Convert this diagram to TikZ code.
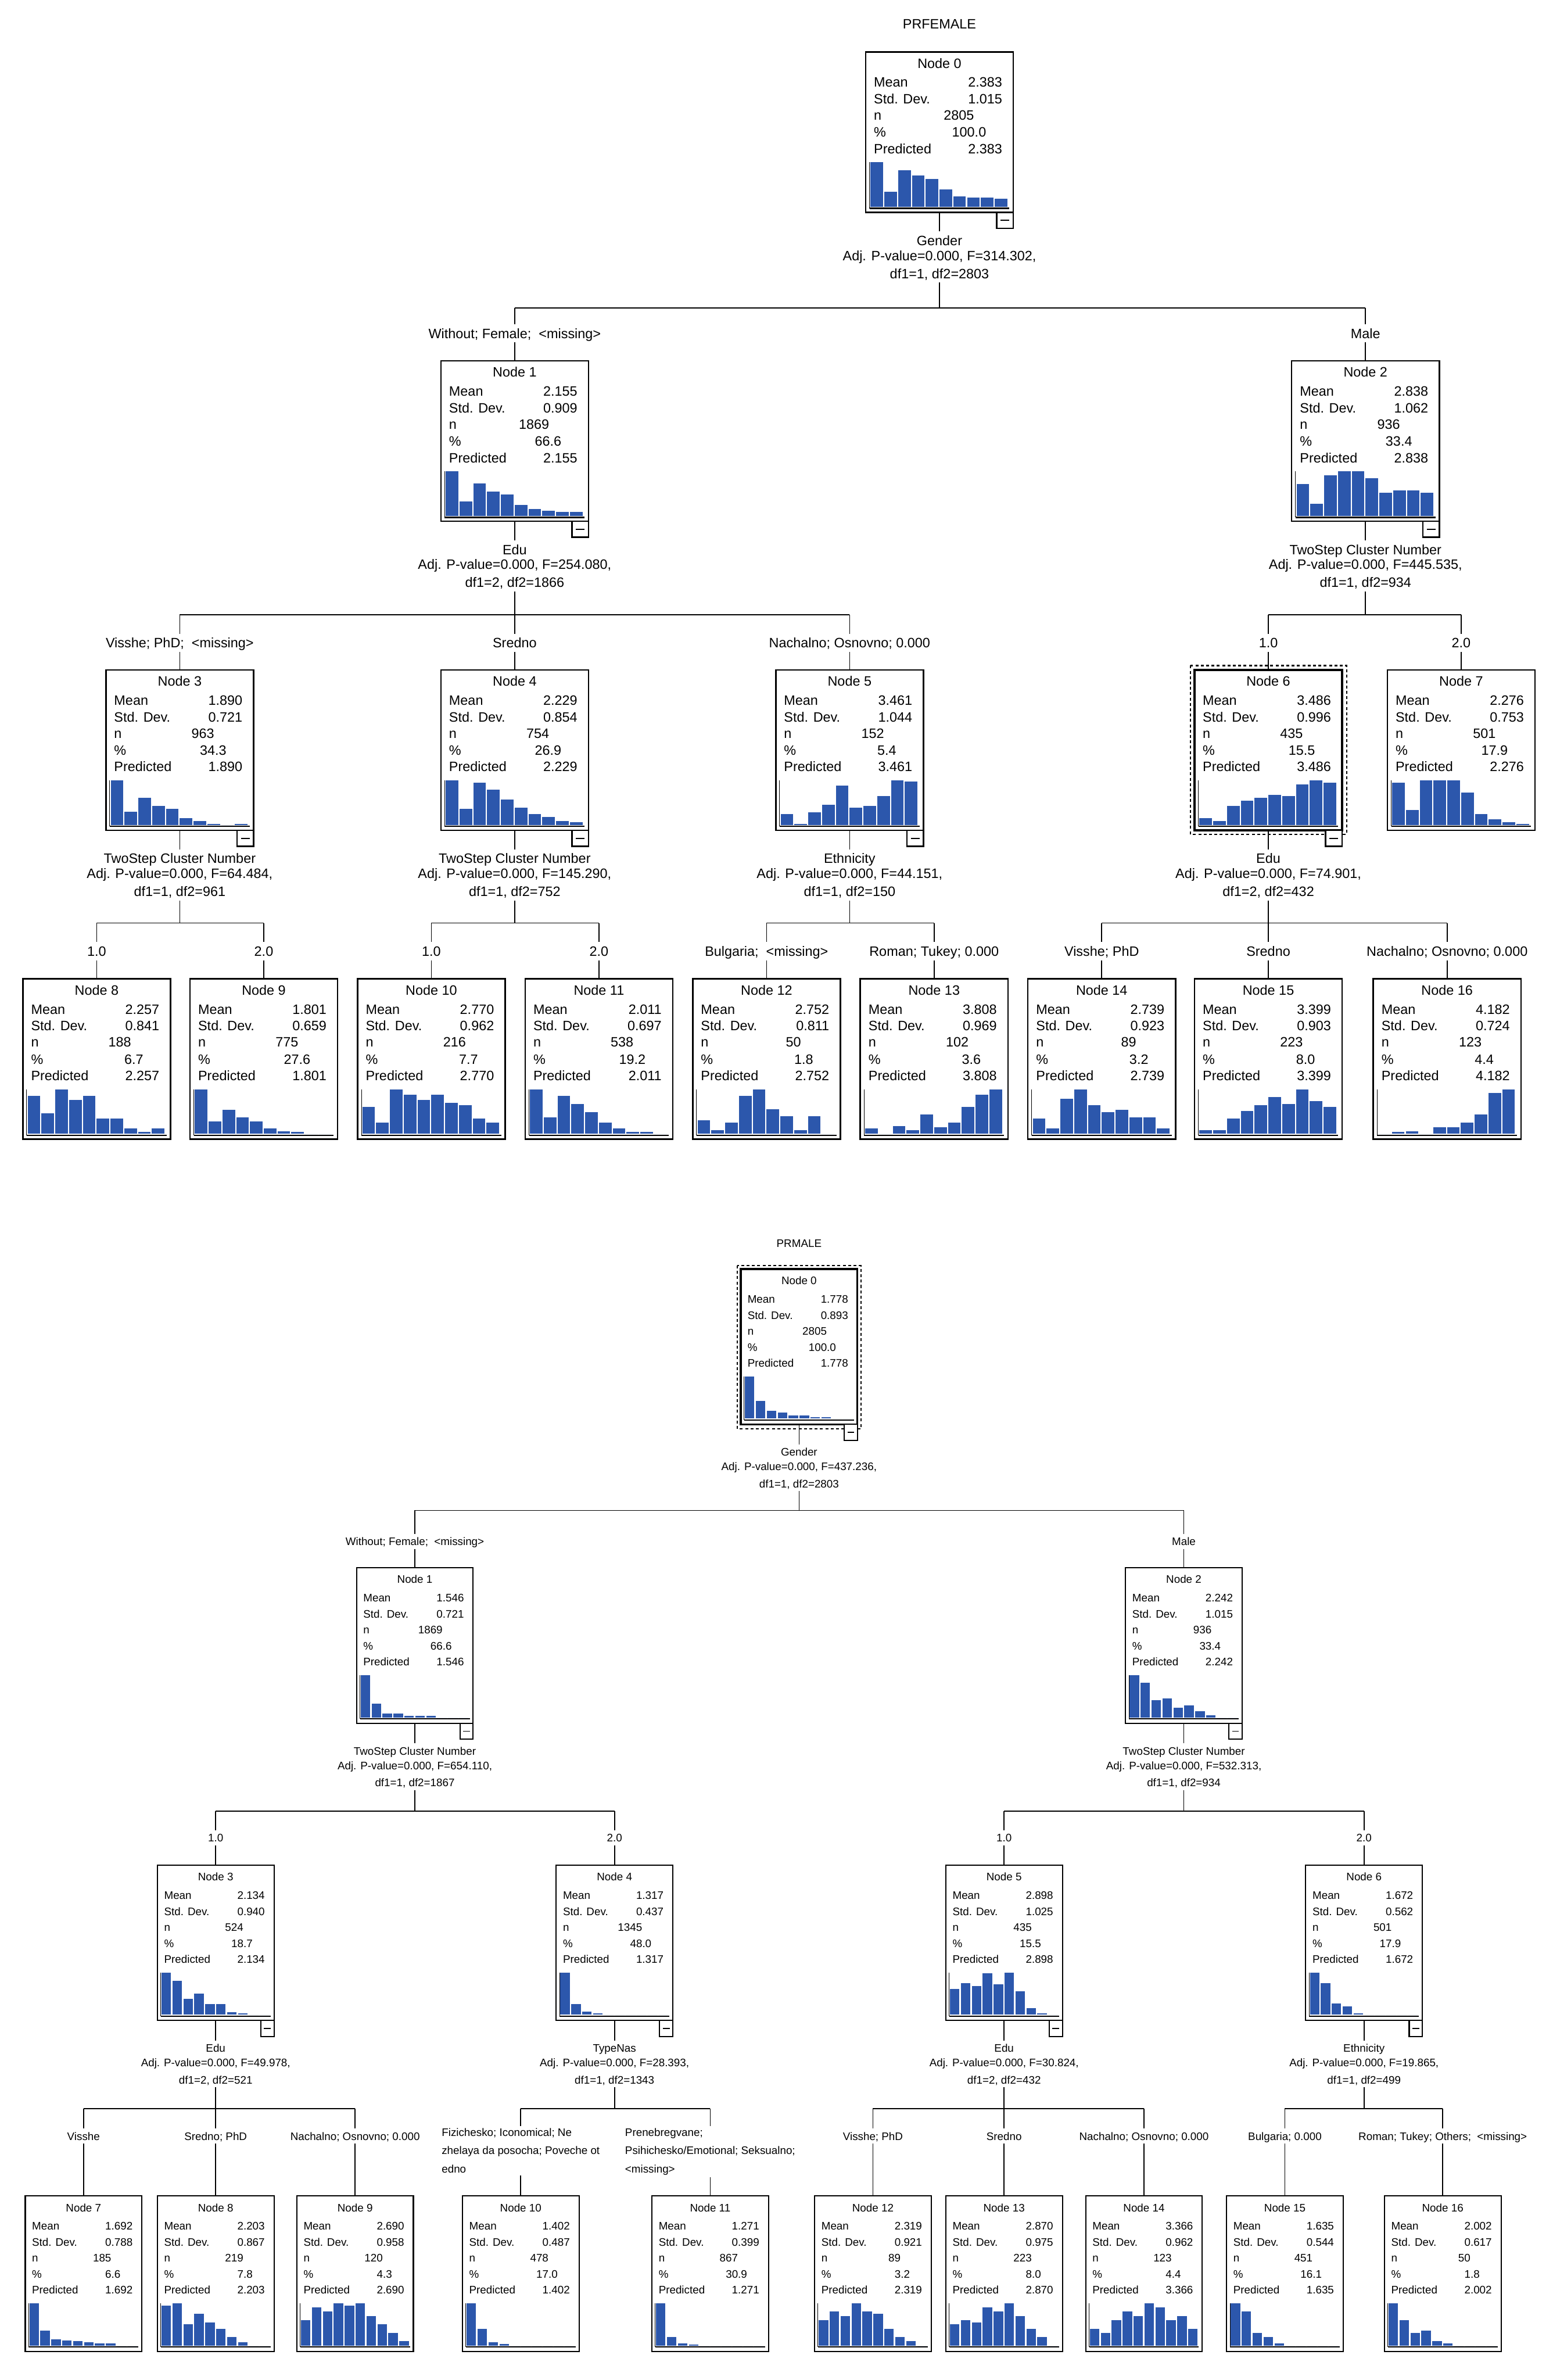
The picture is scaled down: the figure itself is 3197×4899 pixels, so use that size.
\documentclass[tikz,border=0pt]{standalone}
\usepackage{fontspec}
\setmainfont{Liberation Sans}
\definecolor{barblue}{RGB}{44,87,172}
\tikzset{
  nodebox/.style={draw=black, line width=\qbl pt, fill=white, inner sep=0pt, outer sep=0pt},
  minusbox/.style={draw=black, line width=\qbl pt, fill=white, inner sep=0pt, outer sep=0pt},
  minusdash/.style={line width=2pt},
  stat/.style={inner sep=0pt, outer sep=0pt, text height=\txh, text depth=\txd, font=\statfont},
  slab/.style={inner sep=3pt, outer sep=0pt, text height=\txh, text depth=\txd, font=\statfont},
  ttl/.style={inner sep=0pt, font=\statfont},
  mlab/.style={inner sep=5pt, outer sep=0pt, align=left, font=\mlfont},
  bar/.style={fill=barblue},
  haxis/.style={line width=1.2pt},
  hbase/.style={line width=3pt},
  conn/.style={line width=2pt},
  focusbox/.style={line width=2.5pt, dash pattern=on 6pt off 5pt},
}
\newcommand{\statbox}[9]{%
  \node[nodebox, minimum width=\qW pt, minimum height=\qH pt, anchor=north] (#1) at (#2,#3) {};
  \foreach \hh [count=\ii] in {#9}{%
    \fill[bar] (#2-\qW/2+\qbx+\ii*\qbp-\qbp, #3+\qyBot) rectangle ++(\qbw,-\hh*\qhmax);}
  \draw[haxis] (#2-\qW/2+\qax, #3+\qyHt) -- (#2-\qW/2+\qax, #3+\qyBase);
  \draw[hbase] (#2-\qW/2+\qax, #3+\qyBase) -- (#2+\qW/2-\qax, #3+\qyBase);
  \node[stat] (#1-t) at (#2,#3+\qyT) {Node #4};
  \node[stat,anchor=west] (#1-ml) at (#2-\qW/2+\qlx,#3+\qyA) {Mean};
  \node[stat,anchor=east] (#1-mv) at (#2+\qW/2-\qrA,#3+\qyA) {#5};
  \node[stat,anchor=west] (#1-sl) at (#2-\qW/2+\qlx,#3+\qyB) {Std. Dev.};
  \node[stat,anchor=east] (#1-sv) at (#2+\qW/2-\qrA,#3+\qyB) {#6};
  \node[stat,anchor=west] (#1-nl) at (#2-\qW/2+\qlx,#3+\qyC) {n};
  \node[stat,anchor=east] (#1-nv) at (#2+\qW/2-\qrC,#3+\qyC) {#7};
  \node[stat,anchor=west] (#1-pl) at (#2-\qW/2+\qlx,#3+\qyD) {\%};
  \node[stat,anchor=east] (#1-pv) at (#2+\qW/2-\qrD,#3+\qyD) {#8};
  \node[stat,anchor=west] (#1-rl) at (#2-\qW/2+\qlx,#3+\qyE) {Predicted};
  \node[stat,anchor=east] (#1-rv) at (#2+\qW/2-\qrA,#3+\qyE) {#5};
}
\newcommand{\collapsebox}[1]{%
  \node[minusbox, minimum width=\qmw pt, minimum height=\qmh pt, anchor=north east] (#1-m) at (#1.south east) {};
  \draw[minusdash] ([xshift=-\qmd pt]#1-m.center) -- ([xshift=\qmd pt]#1-m.center);
}
\newcommand{\splitlab}[7]{%
  \node[slab] (#1-v) at (#2,#3+\qH+\qsv) {#4};
  \node[slab] (#1-a) at (#2,#3+\qH+\qsa) {#5};
  \node[slab] (#1-d) at (#2,#3+\qH+\qsd) {#6};
  \coordinate (#1-dn) at (#2,#7);
  \draw[conn] (#1.south) -- (#1-v.north);
  \draw[conn] (#1-d.south) -- (#1-dn);
}
\newcommand{\branchto}[5]{%
  \coordinate (#1-up) at (#2,#3);
  \node[slab] (#1-l) at (#2,#4) {#5};
  \draw[conn] (#1-up) -- (#1-l.north);
  \draw[conn] (#1-l.south) -- (#1.north);
}
\begin{document}
\begin{tikzpicture}[x=1pt,y=-1pt]
\useasboundingbox (0,0) rectangle (3197,4899);
\fill[white] (0,0) rectangle (3197,4899);

% ================= TOP TREE =================
\begin{scope}
\def\qW{304}\def\qH{330}\def\qyT{23}\def\qyA{62}\def\qyB{96.5}\def\qyC{130}\def\qyD{165}\def\qyE{199}
\def\qlx{17}\def\qrA{23}\def\qrC{81}\def\qrD{56}\def\qbx{10}\def\qbp{28.4}\def\qbw{26}
\def\qyBot{319}\def\qhmax{92}\def\qax{8}\def\qyHt{227}\def\qyBase{322}
\def\qbl{3}\def\qmw{34}\def\qmh{33}\def\qmd{9}
\def\qsv{58}\def\qsa{89}\def\qsd{126}
\def\statfont{\fontsize{28}{28}\selectfont}\def\txh{25.8pt}\def\txd{5.6pt}

\node[ttl] (ttlA) at (1934,49) {PRFEMALE};

\statbox{A0}{1934}{107}{0}{2.383}{1.015}{2805}{100.0}{1,0.34,0.82,0.70,0.63,0.39,0.24,0.21,0.21,0.18}
\collapsebox{A0}
\statbox{A1}{1059.5}{743}{1}{2.155}{0.909}{1869}{66.6}{1,0.33,0.73,0.54,0.48,0.24,0.15,0.12,0.09,0.09}
\collapsebox{A1}
\statbox{A2}{2811}{743}{2}{2.838}{1.062}{936}{33.4}{0.72,0.27,0.91,1,1,0.85,0.52,0.57,0.57,0.52}
\collapsebox{A2}
\statbox{A3}{370}{1379}{3}{1.890}{0.721}{963}{34.3}{1,0.30,0.61,0.42,0.36,0.15,0.085,0.025,0,0.025}
\collapsebox{A3}
\statbox{A4}{1059.5}{1379}{4}{2.229}{0.854}{754}{26.9}{1,0.36,0.94,0.79,0.57,0.39,0.24,0.18,0.085,0.055}
\collapsebox{A4}
\statbox{A5}{1749}{1379}{5}{3.461}{1.044}{152}{5.4}{0.24,0.025,0.28,0.45,0.88,0.39,0.42,0.64,1,0.97}
\collapsebox{A5}
\statbox{A6}{2611}{1379}{6}{3.486}{0.996}{435}{15.5}{0.15,0.085,0.42,0.54,0.61,0.67,0.64,0.91,1,0.94}
\draw[line width=5pt] (A6.north west) rectangle (A6.south east);
\draw[focusbox] ([shift={(-8,-9)}]A6.north west) rectangle ([shift={(9,8)}]A6.south east);
\collapsebox{A6}
\statbox{A7}{3008}{1379}{7}{2.276}{0.753}{501}{17.9}{0.94,0.33,1,1,1,0.73,0.24,0.12,0.055,0.025}

\statbox{A8}{199}{2015}{8}{2.257}{0.841}{188}{6.7}{0.85,0.46,1,0.76,0.85,0.34,0.34,0.125,0.04,0.125}
\statbox{A9}{543}{2015}{9}{1.801}{0.659}{775}{27.6}{1,0.28,0.54,0.37,0.28,0.125,0.06,0.04,0,0}
\statbox{A10}{888}{2015}{10}{2.770}{0.962}{216}{7.7}{0.61,0.25,1,0.88,0.76,0.88,0.70,0.64,0.34,0.25}
\statbox{A11}{1233}{2015}{11}{2.011}{0.697}{538}{19.2}{1,0.37,0.85,0.67,0.49,0.25,0.125,0.04,0.04,0}
\statbox{A12}{1578}{2015}{12}{2.752}{0.811}{50}{1.8}{0.31,0.09,0.25,0.85,1,0.55,0.40,0.09,0.40,0}
\statbox{A13}{1923}{2015}{13}{3.808}{0.969}{102}{3.6}{0.12,0,0.18,0.09,0.43,0.15,0.25,0.61,0.88,1}
\statbox{A14}{2268}{2015}{14}{2.739}{0.923}{89}{3.2}{0.34,0.125,0.79,1,0.64,0.49,0.54,0.37,0.37,0.125}
\statbox{A15}{2611}{2015}{15}{3.399}{0.903}{223}{8.0}{0.09,0.09,0.34,0.51,0.64,0.82,0.67,1,0.73,0.61}
\statbox{A16}{2979}{2015}{16}{4.182}{0.724}{123}{4.4}{0,0.04,0.06,0,0.15,0.15,0.25,0.43,0.91,1}

\splitlab{A0}{1934}{107}{Gender}{Adj. P-value=0.000, F=314.302,}{df1=1, df2=2803}{634}
\splitlab{A1}{1059.5}{743}{Edu}{Adj. P-value=0.000, F=254.080,}{df1=2, df2=1866}{1265}
\splitlab{A2}{2811}{743}{TwoStep Cluster Number}{Adj. P-value=0.000, F=445.535,}{df1=1, df2=934}{1265}
\splitlab{A3}{370}{1379}{TwoStep Cluster Number}{Adj. P-value=0.000, F=64.484,}{df1=1, df2=961}{1900}
\splitlab{A4}{1059.5}{1379}{TwoStep Cluster Number}{Adj. P-value=0.000, F=145.290,}{df1=1, df2=752}{1900}
\splitlab{A5}{1749}{1379}{Ethnicity}{Adj. P-value=0.000, F=44.151,}{df1=1, df2=150}{1900}
\splitlab{A6}{2611}{1379}{Edu}{Adj. P-value=0.000, F=74.901,}{df1=2, df2=432}{1900}

\branchto{A1}{1059.5}{634}{686}{Without; Female;\ \ <missing>}
\branchto{A2}{2811}{634}{686}{Male}
\draw[conn] (A1-up) -- (A2-up);

\branchto{A3}{370}{1265}{1323}{Visshe; PhD;\ \ <missing>}
\branchto{A4}{1059.5}{1265}{1323}{Sredno}
\branchto{A5}{1749}{1265}{1323}{Nachalno; Osnovno; 0.000}
\draw[conn] (A3-up) -- (A5-up);
\branchto{A6}{2611}{1265}{1323}{1.0}
\branchto{A7}{3008}{1265}{1323}{2.0}
\draw[conn] (A6-up) -- (A7-up);

\branchto{A8}{199}{1900}{1958}{1.0}
\branchto{A9}{543}{1900}{1958}{2.0}
\draw[conn] (A8-up) -- (A9-up);
\branchto{A10}{888}{1900}{1958}{1.0}
\branchto{A11}{1233}{1900}{1958}{2.0}
\draw[conn] (A10-up) -- (A11-up);
\branchto{A12}{1578}{1900}{1958}{Bulgaria;\ \ <missing>}
\branchto{A13}{1923}{1900}{1958}{Roman; Tukey; 0.000}
\draw[conn] (A12-up) -- (A13-up);
\branchto{A14}{2268}{1900}{1958}{Visshe; PhD}
\branchto{A15}{2611}{1900}{1958}{Sredno}
\branchto{A16}{2979}{1900}{1958}{Nachalno; Osnovno; 0.000}
\draw[conn] (A14-up) -- (A16-up);
\end{scope}

% ================= BOTTOM TREE =================
\begin{scope}
\def\qW{240}\def\qH{320}\def\qyT{24}\def\qyA{62}\def\qyB{95.5}\def\qyC{128}\def\qyD{161.5}\def\qyE{193.5}
\def\qlx{14}\def\qrA{19}\def\qrC{63}\def\qrD{44}\def\qbx{8.5}\def\qbp{22.5}\def\qbw{19.5}
\def\qyBot{308}\def\qhmax{87}\def\qax{7}\def\qyHt{221}\def\qyBase{311}
\def\qbl{2.5}\def\qmw{27}\def\qmh{33}\def\qmd{7}
\def\qsv{57}\def\qsa{87}\def\qsd{122}
\def\statfont{\fontsize{22.5}{22.5}\selectfont}\def\txh{20.7pt}\def\txd{4.5pt}
\def\mlfont{\fontsize{22.5}{37.5}\selectfont}

\node[ttl] (ttlB) at (1645,2559) {PRMALE};

\statbox{B0}{1645}{2612}{0}{1.778}{0.893}{2805}{100.0}{1,0.42,0.18,0.15,0.08,0.08,0.03,0.03,0,0}
\draw[line width=4pt] (B0.north west) rectangle (B0.south east);
\draw[focusbox] ([shift={(-7,-7)}]B0.north west) rectangle ([shift={(7,9)}]B0.south east);
\collapsebox{B0}
\statbox{B1}{854}{3227}{1}{1.546}{0.721}{1869}{66.6}{1,0.33,0.09,0.09,0.04,0.04,0.04,0,0,0}
\collapsebox{B1}
\statbox{B2}{2437}{3227}{2}{2.242}{1.015}{936}{33.4}{1,0.82,0.41,0.45,0.23,0.29,0.15,0.05,0,0}
\collapsebox{B2}
\statbox{B3}{444}{3839}{3}{2.134}{0.940}{524}{18.7}{1,0.8,0.375,0.5,0.25,0.25,0.065,0.035,0,0}
\collapsebox{B3}
\statbox{B4}{1265}{3839}{4}{1.317}{0.437}{1345}{48.0}{1,0.25,0.075,0.035,0,0,0,0,0,0}
\collapsebox{B4}
\statbox{B5}{2067}{3839}{5}{2.898}{1.025}{435}{15.5}{0.61,0.74,0.675,0.975,0.725,1,0.555,0.16,0.035,0}
\collapsebox{B5}
\statbox{B6}{2808}{3839}{6}{1.672}{0.562}{501}{17.9}{1,0.75,0.27,0.19,0.035,0,0,0,0,0}
\collapsebox{B6}

\statbox{B7}{172}{4520}{7}{1.692}{0.788}{185}{6.6}{1,0.35,0.15,0.12,0.1,0.08,0.05,0.05,0,0}
\statbox{B8}{444}{4520}{8}{2.203}{0.867}{219}{7.8}{0.95,1,0.5,0.75,0.55,0.4,0.2,0.08,0,0}
\statbox{B9}{731}{4520}{9}{2.690}{0.958}{120}{4.3}{0.6,0.9,0.8,1,0.95,1,0.7,0.5,0.3,0.1}
\statbox{B10}{1072}{4520}{10}{1.402}{0.487}{478}{17.0}{1,0.4,0.08,0.04,0,0,0,0,0,0}
\statbox{B11}{1462}{4520}{11}{1.271}{0.399}{867}{30.9}{1,0.2,0.05,0.03,0,0,0,0,0,0}
\statbox{B12}{1797}{4520}{12}{2.319}{0.921}{89}{3.2}{0.6,0.8,0.7,1,0.8,0.75,0.4,0.2,0.1,0}
\statbox{B13}{2067}{4520}{13}{2.870}{0.975}{223}{8.0}{0.5,0.6,0.55,0.9,0.8,1,0.7,0.4,0.2,0}
\statbox{B14}{2355}{4520}{14}{3.366}{0.962}{123}{4.4}{0.4,0.3,0.6,0.8,0.7,1,0.9,0.6,0.7,0.4}
\statbox{B15}{2645}{4520}{15}{1.635}{0.544}{451}{16.1}{1,0.8,0.3,0.2,0.05,0,0,0,0,0}
\statbox{B16}{2970}{4520}{16}{2.002}{0.617}{50}{1.8}{1,0.6,0.3,0.35,0.1,0.05,0,0,0,0}

\splitlab{B0}{1645}{2612}{Gender}{Adj. P-value=0.000, F=437.236,}{df1=1, df2=2803}{3109}
\splitlab{B1}{854}{3227}{TwoStep Cluster Number}{Adj. P-value=0.000, F=654.110,}{df1=1, df2=1867}{3728}
\splitlab{B2}{2437}{3227}{TwoStep Cluster Number}{Adj. P-value=0.000, F=532.313,}{df1=1, df2=934}{3728}
\splitlab{B3}{444}{3839}{Edu}{Adj. P-value=0.000, F=49.978,}{df1=2, df2=521}{4340}
\splitlab{B4}{1265}{3839}{TypeNas}{Adj. P-value=0.000, F=28.393,}{df1=1, df2=1343}{4340}
\splitlab{B5}{2067}{3839}{Edu}{Adj. P-value=0.000, F=30.824,}{df1=2, df2=432}{4340}
\splitlab{B6}{2808}{3839}{Ethnicity}{Adj. P-value=0.000, F=19.865,}{df1=1, df2=499}{4340}

\branchto{B1}{854}{3109}{3173}{Without; Female;\ \ <missing>}
\branchto{B2}{2437}{3109}{3173}{Male}
\draw[conn] (B1-up) -- (B2-up);

\branchto{B3}{444}{3728}{3783}{1.0}
\branchto{B4}{1265}{3728}{3783}{2.0}
\draw[conn] (B3-up) -- (B4-up);
\branchto{B5}{2067}{3728}{3783}{1.0}
\branchto{B6}{2808}{3728}{3783}{2.0}
\draw[conn] (B5-up) -- (B6-up);

\branchto{B7}{172}{4340}{4397}{Visshe}
\branchto{B8}{444}{4340}{4397}{Sredno; PhD}
\branchto{B9}{731}{4340}{4397}{Nachalno; Osnovno; 0.000}
\draw[conn] (B7-up) -- (B9-up);

\coordinate (B10-up) at (1072,4340);
\node[mlab, anchor=north] (B10-l) at (1072,4376) {Fizichesko; Iconomical; Ne\\zhelaya da posocha; Poveche ot\\edno};
\draw[conn] (B10-up) -- (B10-l.north);
\draw[conn] (B10-l.south) -- (B10.north);
\coordinate (B11-up) at (1462,4340);
\node[mlab, anchor=north] (B11-l) at (1462,4376) {Prenebregvane;\\Psihichesko/Emotional; Seksualno;\\<missing>};
\draw[conn] (B11-up) -- (B11-l.north);
\draw[conn] (B11-l.south) -- (B11.north);
\draw[conn] (B10-up) -- (B11-up);

\branchto{B12}{1797}{4340}{4397}{Visshe; PhD}
\branchto{B13}{2067}{4340}{4397}{Sredno}
\branchto{B14}{2355}{4340}{4397}{Nachalno; Osnovno; 0.000}
\draw[conn] (B12-up) -- (B14-up);
\branchto{B15}{2645}{4340}{4397}{Bulgaria; 0.000}
\branchto{B16}{2970}{4340}{4397}{Roman; Tukey; Others;\ \ <missing>}
\draw[conn] (B15-up) -- (B16-up);
\end{scope}
\end{tikzpicture}
\end{document}
